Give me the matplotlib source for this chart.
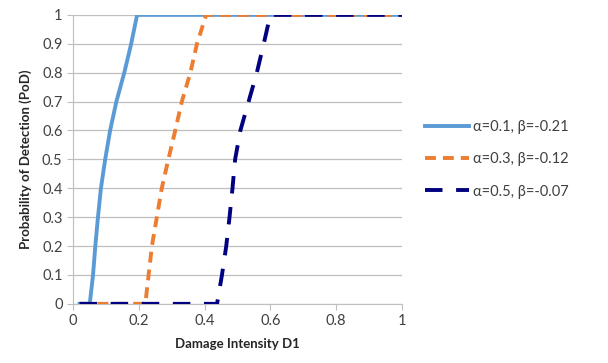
import matplotlib
matplotlib.use("Agg")
import matplotlib.pyplot as plt

plt.rcParams['font.family'] = ['Lato', 'DejaVu Sans']

# data
x_a1 = [0.02, 0.051, 0.061, 0.068, 0.076, 0.085, 0.098, 0.113, 0.132, 0.156, 0.177, 0.195, 1.0]
y_a1 = [0, 0, 0.1, 0.2, 0.3, 0.4, 0.5, 0.6, 0.7, 0.8, 0.9, 1.0, 1.0]

x_a3 = [0.02, 0.22, 0.23, 0.24, 0.255, 0.27, 0.29, 0.311, 0.331, 0.357, 0.377, 0.405, 1.0]
y_a3 = [0, 0, 0.1, 0.2, 0.3, 0.4, 0.5, 0.6, 0.7, 0.8, 0.9, 1.0, 1.0]

x_a5 = [0.02, 0.438, 0.453, 0.466, 0.476, 0.485, 0.493, 0.509, 0.534, 0.559, 0.58, 0.6, 1.0]
y_a5 = [0, 0, 0.1, 0.2, 0.3, 0.4, 0.5, 0.6, 0.7, 0.8, 0.9, 1.0, 1.0]

labels = ['α=0.1, β=-0.21', 'α=0.3, β=-0.12', 'α=0.5, β=-0.07']

fig = plt.figure(figsize=(6.08, 3.63), dpi=100)
ax = fig.add_axes([0.12, 0.163, 0.541, 0.796])

ax.plot(x_a1, y_a1, color='#5B9BD5', lw=2.8, label=labels[0], zorder=3)
ax.plot(x_a3, y_a3, color='#ED7D31', lw=2.8, dashes=(2.8, 1.8), label=labels[1], zorder=3)
ax.plot(x_a5, y_a5, color='#000080', lw=2.8, dashes=(4.5, 3.5), label=labels[2], zorder=4)

ax.set_xlim(0, 1)
ax.set_ylim(0, 1)
ax.set_xticks([0, 0.2, 0.4, 0.6, 0.8, 1])
ax.set_xticklabels(['0', '0.2', '0.4', '0.6', '0.8', '1'])
ax.set_yticks([i / 10 for i in range(11)])
ax.set_yticklabels(['0', '0.1', '0.2', '0.3', '0.4', '0.5', '0.6', '0.7', '0.8', '0.9', '1'])
ax.yaxis.grid(True, color='#BFBFBF', lw=0.9)
ax.set_axisbelow(True)
for s in ['top', 'right']:
    ax.spines[s].set_visible(False)
for s in ['left', 'bottom']:
    ax.spines[s].set_color('#BFBFBF')
ax.tick_params(axis='both', colors='#BFBFBF', labelcolor='#404040', labelsize=10.5, length=4)

ax.set_xlabel('Damage Intensity D1', fontsize=9.5, fontweight='bold', color='#262626', labelpad=7)
ax.set_ylabel('Probability of Detection (PoD)', fontsize=9.5, fontweight='bold', color='#262626', labelpad=7)

ax.legend(loc='center left', bbox_to_anchor=(1.03, 0.5), frameon=False, fontsize=10.5,
          labelcolor='#404040', handlelength=3.0, handletextpad=0.3, labelspacing=1.25)

fig.savefig('out.png', dpi=100)
